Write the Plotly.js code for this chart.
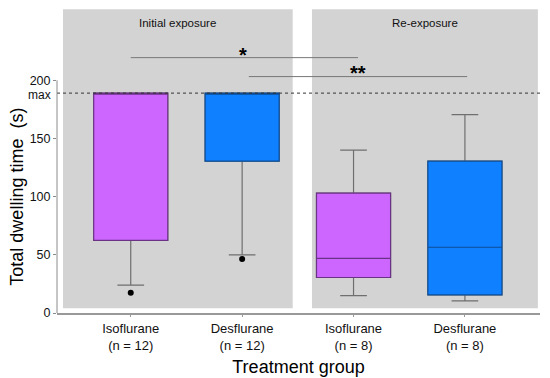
<!DOCTYPE html>
<html>
<head>
<meta charset="utf-8">
<script src="https://cdn.plot.ly/plotly-3.0.1.min.js"></script>
<style>html,body{margin:0;padding:0;background:#fff;}#chart{width:550px;height:378px;}</style>
</head>
<body>
<div id="chart"></div>
<script>
// ---- data ----
var categories = ["Isoflurane<br>(n = 12)", "Desflurane<br>(n = 12)", "Isoflurane<br>(n = 8)", "Desflurane<br>(n = 8)"];
var positions = [0, 1, 2, 3];
var lowerWhisker = [24, 50, 15, 10.5];
var q1Values = [62.5, 130.5, 30.5, 15.5];
var medianValues = [189, 189, 47, 56.5];
var q3Values = [189, 189, 103, 130.5];
var upperWhisker = [189, 189, 140, 170.5];
var outlierX = [0, 1];
var outlierY = [17.5, 46.5];
var maxValue = 189;
var fillColors = ["#CC66FF", "#0F80FF", "#CC66FF", "#0F80FF"];
var edgeColors = ["#6B3386", "#0D4C94", "#6B3386", "#0D4C94"];
var panelLabels = ["Initial exposure", "Re-exposure"];
var sigLabels = ["*", "**"];

var traces = [];
for (var i = 0; i < positions.length; i++) {
  traces.push({
    type: "box", x: [positions[i]],
    q1: [q1Values[i]], median: [medianValues[i]], q3: [q3Values[i]],
    lowerfence: [lowerWhisker[i]], upperfence: [upperWhisker[i]],
    width: 0.665, whiskerwidth: 0.36,
    fillcolor: "rgba(0,0,0,0)", line: {color: "#6f6f6f", width: 1.2},
    boxpoints: false, hoverinfo: "skip", showlegend: false
  });
  traces.push({
    type: "box", x: [positions[i]],
    q1: [q1Values[i]], median: [medianValues[i]], q3: [q3Values[i]],
    lowerfence: [q1Values[i]], upperfence: [q3Values[i]],
    width: 0.665, whiskerwidth: 0,
    fillcolor: fillColors[i], line: {color: edgeColors[i], width: 1.2},
    boxpoints: false, hoverinfo: "skip", showlegend: false
  });
}
traces.push({
  type: "scatter", mode: "markers", x: outlierX, y: outlierY,
  marker: {color: "#000", size: 6}, hoverinfo: "skip", showlegend: false
});

var panelBottom = 4, panelTop = 261;
var shapes = [
  {type: "rect", layer: "below", xref: "x", yref: "y", x0: -0.608, x1: 1.454, y0: panelBottom, y1: panelTop, fillcolor: "#D3D3D3", line: {width: 0}},
  {type: "rect", layer: "below", xref: "x", yref: "y", x0: 1.627, x1: 3.655, y0: panelBottom, y1: panelTop, fillcolor: "#D3D3D3", line: {width: 0}},
  {type: "line", xref: "paper", yref: "y", x0: 0, x1: 1, y0: maxValue, y1: maxValue, line: {color: "#333", width: 1, dash: "dot"}},
  {type: "line", xref: "paper", yref: "y", x0: 0, x1: 0, y0: 0, y1: 200, line: {color: "#8a8a8a", width: 1}},
  {type: "line", xref: "x", yref: "y", x0: 0, x1: 2.04, y0: 219.5, y1: 219.5, line: {color: "#777", width: 1}},
  {type: "line", xref: "x", yref: "y", x0: 1.06, x1: 3.02, y0: 203.2, y1: 203.2, line: {color: "#777", width: 1}}
];

var annotations = [
  {xref: "x", yref: "paper", x: 0.42, y: 0.955, text: panelLabels[0], showarrow: false, yanchor: "middle", font: {size: 11.5, color: "#111"}},
  {xref: "x", yref: "paper", x: 2.64, y: 0.955, text: panelLabels[1], showarrow: false, yanchor: "middle", font: {size: 11.5, color: "#111"}},
  {xref: "x", yref: "y", x: 1.01, y: 219.5, text: "<b>" + sigLabels[0] + "</b>", showarrow: false, yanchor: "bottom", yshift: -10, font: {size: 20, color: "#000"}},
  {xref: "x", yref: "y", x: 2.04, y: 203.2, text: "<b>" + sigLabels[1] + "</b>", showarrow: false, yanchor: "bottom", yshift: -9, font: {size: 20, color: "#000"}},
  {xref: "paper", yref: "y", x: 0, xshift: -4, y: maxValue, yshift: -1.5, text: "max", showarrow: false, xanchor: "right", yanchor: "middle", font: {size: 12, color: "#111"}},
  {xref: "paper", yref: "y", x: 0, xshift: -40, y: 100, text: "Total dwelling time  (s)", textangle: -90, showarrow: false, xanchor: "center", yanchor: "middle", font: {size: 18, color: "#000"}}
];

var layout = {
  width: 550, height: 378,
  margin: {l: 57, r: 10, t: 9, b: 65},
  paper_bgcolor: "#fff", plot_bgcolor: "#fff",
  font: {family: "Liberation Sans, Arial, sans-serif", color: "#111"},
  boxmode: "overlay",
  xaxis: {
    range: [-0.662, 3.674], tickvals: positions, ticktext: categories,
    showgrid: false, zeroline: false, showline: true, linecolor: "#999", linewidth: 2,
    ticks: "outside", ticklen: 2, tickcolor: "#999", tickfont: {size: 13, color: "#111"},
    title: {text: "Treatment group", font: {size: 18, color: "#000"}, standoff: 9}
  },
  yaxis: {
    range: [0, 261.3], tickvals: [0, 50, 100, 150, 200],
    showgrid: false, zeroline: false, showline: false,
    ticks: "outside", ticklen: 3, tickcolor: "#8a8a8a", tickfont: {size: 12.5, color: "#111"}
  },
  shapes: shapes, annotations: annotations
};
Plotly.newPlot("chart", traces, layout, {displayModeBar: false, staticPlot: true});
</script>
</body>
</html>
